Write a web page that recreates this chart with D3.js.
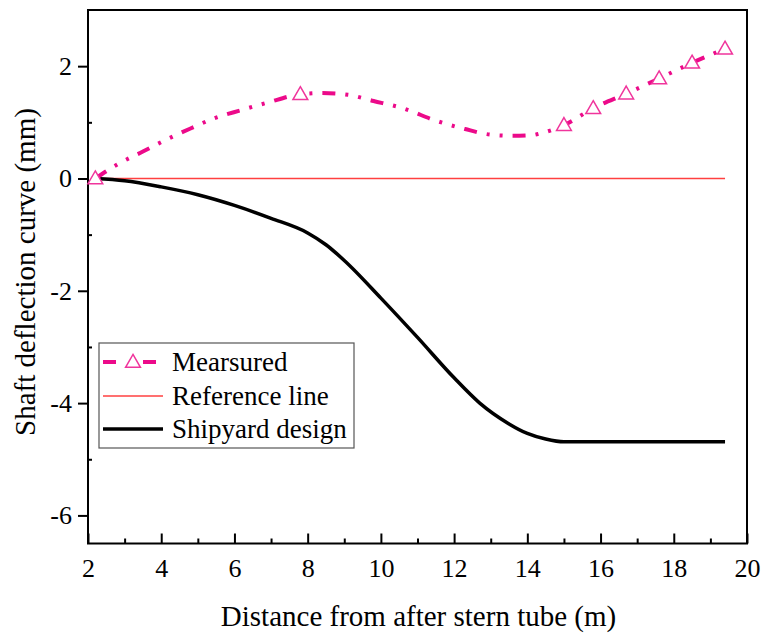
<!DOCTYPE html>
<html><head><meta charset="utf-8"><script src="https://cdn.jsdelivr.net/npm/d3@7"></script></head>
<body style="margin:0">
<script>
const measuredLineX = [2.2, 2.8, 3.5, 4.1, 4.8, 5.4, 6.2, 6.9, 7.8, 8.4, 9.1, 9.8, 10.6, 11.5, 12.3, 13.0, 13.6, 14.1, 14.4, 15.0, 15.8, 16.7, 17.6, 18.5, 19.4];
const measuredLineY = [0, 0.25, 0.48, 0.68, 0.89, 1.06, 1.22, 1.35, 1.50, 1.52, 1.49, 1.38, 1.25, 1.03, 0.88, 0.78, 0.76, 0.77, 0.81, 0.95, 1.25, 1.51, 1.78, 2.06, 2.31];
// measured points (triangle markers)
const measuredX = [2.2, 7.8, 15.0, 15.8, 16.7, 17.6, 18.5, 19.4];
const measuredY = [0, 1.50, 0.95, 1.25, 1.51, 1.78, 2.06, 2.31];
// shipyard design curve
const shipyardX = [2.2, 3.0, 4.0, 5.0, 6.0, 7.0, 8.0, 8.5, 9.0, 10.0, 11.0, 12.0, 12.7, 13.5, 14.0, 14.5, 15.0, 19.4];
const shipyardY = [0, -0.04, -0.15, -0.29, -0.48, -0.71, -0.97, -1.18, -1.46, -2.13, -2.83, -3.55, -4.0, -4.37, -4.54, -4.64, -4.69, -4.69];
// reference line
const referenceX = [2.2, 19.4];
const referenceY = [0, 0];

const xTicks = [2, 4, 6, 8, 10, 12, 14, 16, 18, 20];
const xMinor = [3, 5, 7, 9, 11, 13, 15, 17, 19];
const yTicks = [-6, -4, -2, 0, 2];
const yMinor = [-5, -3, -1, 1];
const legendLabels = ["Mearsured", "Reference line", "Shipyard design"];
const xTitle = "Distance from after stern tube (m)";
const yTitle = "Shaft deflection curve (mm)";

const FONT = "Liberation Serif";
const pinkLine = "#ec0a8a", pinkMark = "#f0359c", refColor = "#ff4040";

const svg = d3.select("body").append("svg")
    .attr("width", 765).attr("height", 635);

const x = d3.scaleLinear().domain([2, 20]).range([88, 747]);
const y = d3.scaleLinear().domain([-6.5, 3]).range([543.5, 10]);

function serif(g, size) {
    g.attr("font-family", null).attr("font-size", null);
    g.selectAll("text")
        .attr("font-family", FONT).attr("font-size", size)
        .attr("fill", "#000");
}

// x axis: ticks point inward
const xAxis = svg.append("g")
    .attr("transform", "translate(0," + y.range()[0] + ")")
    .call(d3.axisBottom(x).tickValues(xTicks).tickFormat(d => String(d)).tickSize(-10).tickPadding(15));
xAxis.select(".domain").remove();
xAxis.selectAll("line").attr("stroke-width", 2);
serif(xAxis, 26);
const xAxisMinor = svg.append("g")
    .attr("transform", "translate(0," + y.range()[0] + ")")
    .call(d3.axisBottom(x).tickValues(xMinor).tickFormat("").tickSize(-5));
xAxisMinor.select(".domain").remove();
xAxisMinor.selectAll("line").attr("stroke-width", 2);

// y axis: major ticks outside, minor inside
const yAxis = svg.append("g")
    .attr("transform", "translate(" + x.range()[0] + ",0)")
    .call(d3.axisLeft(y).tickValues(yTicks).tickFormat(d => String(d)).tickSize(10).tickPadding(6));
yAxis.select(".domain").remove();
yAxis.selectAll("line").attr("stroke-width", 2);
serif(yAxis, 26);
const yAxisMinor = svg.append("g")
    .attr("transform", "translate(" + x.range()[0] + ",0)")
    .call(d3.axisLeft(y).tickValues(yMinor).tickFormat("").tickSize(-4));
yAxisMinor.select(".domain").remove();
yAxisMinor.selectAll("line").attr("stroke-width", 2);

// frame
svg.append("rect")
    .attr("x", x.range()[0]).attr("y", y.range()[1])
    .attr("width", x.range()[1] - x.range()[0])
    .attr("height", y.range()[0] - y.range()[1])
    .attr("fill", "none").attr("stroke", "#000").attr("stroke-width", 2);

// titles
svg.append("text")
    .attr("font-family", FONT).attr("font-size", 29)
    .attr("x", (x.range()[0] + x.range()[1]) / 2 + 1)
    .attr("y", 626)
    .attr("text-anchor", "middle")
    .text(xTitle);
svg.append("text")
    .attr("font-family", FONT).attr("font-size", 29)
    .attr("transform", "translate(35,272) rotate(-90)")
    .attr("text-anchor", "middle")
    .text(yTitle);

const line = d3.line().x(d => x(d[0])).y(d => y(d[1]));

// reference line
svg.append("path")
    .datum(d3.zip(referenceX, referenceY))
    .attr("d", line)
    .attr("fill", "none").attr("stroke", refColor).attr("stroke-width", 1.5);

// shipyard design
svg.append("path")
    .datum(d3.zip(shipyardX, shipyardY))
    .attr("d", line.curve(d3.curveMonotoneX))
    .attr("fill", "none").attr("stroke", "#000").attr("stroke-width", 3.5);

// measured
svg.append("path")
    .datum(d3.zip(measuredLineX, measuredLineY))
    .attr("d", line.curve(d3.curveMonotoneX))
    .attr("fill", "none").attr("stroke", pinkLine).attr("stroke-width", 4)
    .attr("stroke-dasharray", "13,10,3,10,3,10");

const tri = d3.symbol().type(d3.symbolTriangle).size(95);
svg.append("g").selectAll("path")
    .data(d3.zip(measuredX, measuredY))
    .join("path")
    .attr("transform", d => "translate(" + x(d[0]) + "," + (y(d[1]) + 1) + ")")
    .attr("d", tri)
    .attr("fill", "#fff").attr("stroke", pinkMark).attr("stroke-width", 1.5);

// legend
const lg = svg.append("g").attr("transform", "translate(99,343)");
lg.append("rect").attr("width", 255).attr("height", 105)
    .attr("fill", "#fff").attr("stroke", "#555").attr("stroke-width", 1.2);
const rowY = [19, 53, 86];
legendLabels.forEach((lab, i) => {
    lg.append("text")
        .attr("font-family", FONT).attr("font-size", 27)
        .attr("x", 73).attr("y", rowY[i] + 9).text(lab);
});
lg.append("line").attr("x1", 4).attr("x2", 17).attr("y1", rowY[0]).attr("y2", rowY[0])
    .attr("stroke", pinkLine).attr("stroke-width", 4);
lg.append("line").attr("x1", 44).attr("x2", 57).attr("y1", rowY[0]).attr("y2", rowY[0])
    .attr("stroke", pinkLine).attr("stroke-width", 4);
lg.append("path").attr("transform", "translate(34," + (rowY[0] + 1) + ")")
    .attr("d", tri).attr("fill", "#fff").attr("stroke", pinkMark).attr("stroke-width", 1.5);
lg.append("line").attr("x1", 4).attr("x2", 64).attr("y1", rowY[1]).attr("y2", rowY[1])
    .attr("stroke", refColor).attr("stroke-width", 1.5);
lg.append("line").attr("x1", 4).attr("x2", 64).attr("y1", rowY[2]).attr("y2", rowY[2])
    .attr("stroke", "#000").attr("stroke-width", 3.5);
</script>
</body>
</html>
